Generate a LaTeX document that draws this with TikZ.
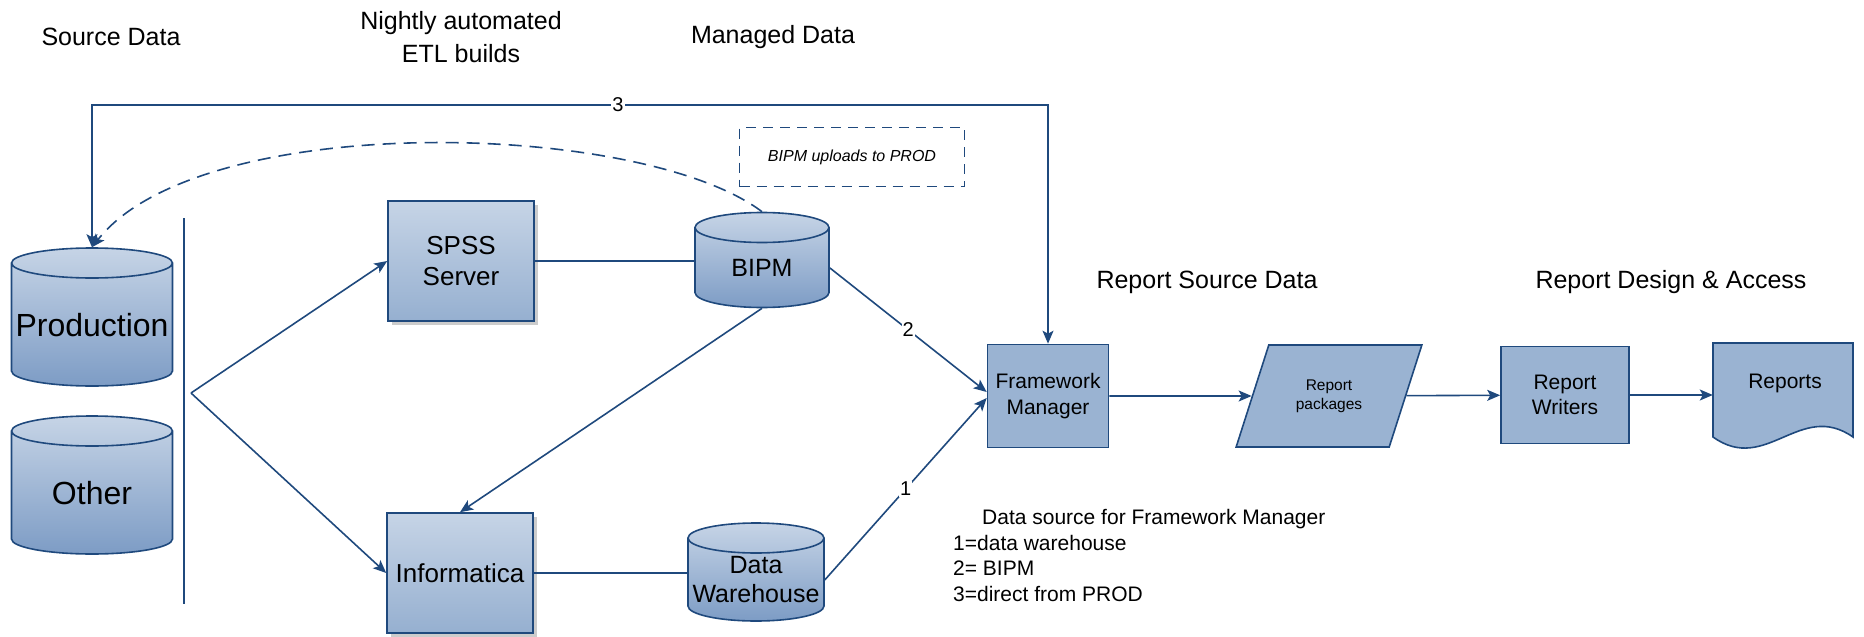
\documentclass[tikz,border=0pt]{standalone}
\usepackage{fontspec}
\setmainfont{Liberation Sans}
\usetikzlibrary{shapes.geometric,shadows,arrows.meta}
\definecolor{lineblue}{HTML}{1F497D}
\definecolor{lightfill}{HTML}{C6D4E6}
\definecolor{darkfill}{HTML}{7D9CC5}
\definecolor{flatfill}{HTML}{9AB3D2}
\newcommand{\slim}[1]{\makebox[60pt]{#1}}
\begin{document}
\begin{tikzpicture} [
        x=1pt, y=-1pt,
        >={Stealth[length=13pt,width=11pt,inset=3pt]},
        store/.style={cylinder, shape border rotate=90, aspect=0.5, draw=lineblue, line width=1.6pt,
            top color=lightfill, bottom color=darkfill, inner sep=0pt,
            anchor=shape center, align=center},
        server/.style={rectangle, draw=lineblue, line width=1.6pt, top color=lightfill, bottom color=flatfill!85!darkfill,
            drop shadow={shadow xshift=4pt, shadow yshift=-4pt, fill=black!40},
            minimum width=146pt, minimum height=120pt, align=center, font=\fontsize{26}{31}\selectfont},
        box/.style={rectangle, draw=lineblue, line width=1.6pt, fill=flatfill, align=center},
        flow/.style={draw=lineblue, line width=1.6pt, ->},
        link/.style={draw=lineblue, line width=1.6pt},
        head/.style={align=center, font=\fontsize{25}{33}\selectfont},
        num/.style={fill=white, inner sep=1pt, font=\fontsize{20}{22}\selectfont},
    ]
    \useasboundingbox (0,0) rectangle (1864,637);
    % column headings
    \node[head] (hsrc) at (111,37) {Source Data};
    \node[head] (hetl) at (461,37) {Nightly automated\\ETL builds};
    \node[head] (hman) at (773,37) {Managed Data};
    \node[head] (hrsd) at (1207,282) {Report Source Data};
    \node[head] (hrda) at (1671,282) {Report Design \& Access};
    % data stores
    \foreach \pos/\name/\txt in {
            {(92,317)/prod/Production}, {(92,485)/other/Other}}
        \node[store, minimum width=161pt, minimum height=138pt,
            font=\fontsize{32}{36}\selectfont] (\name) at \pos {\slim{\txt}};
    \node[store, minimum width=134pt, minimum height=95pt,
        font=\fontsize{25}{29}\selectfont] (bipm) at (762,260) {\slim{BIPM}};
    \node[store, minimum width=136pt, minimum height=98pt,
        font=\fontsize{25}{29}\selectfont] (dw) at (756,572) {\slim{Data}\\\slim{Warehouse}};
    % ETL servers
    \node[server] (spss) at (461,261) {SPSS\\Server};
    \node[server] (info) at (460,573) {Informatica};
    % reporting chain
    \node[box, minimum width=121pt, minimum height=103pt, font=\fontsize{21}{26}\selectfont] (fm) at (1048,396) {Framework\\Manager};
    \node[box, trapezium, trapezium left angle=63.4, trapezium right angle=116.6, trapezium stretches=true,
        minimum width=186pt, minimum height=102pt, font=\fontsize{15.5}{19}\selectfont] (pkg) at (1329,396) {Report\\packages};
    \node[box, minimum width=128pt, minimum height=97pt, font=\fontsize{21}{25}\selectfont] (rw) at (1565,395) {Report\\Writers};
    \path[box] (1713,343) -- (1853,343) -- (1853,437)
        .. controls (1800,400) and (1766,475) .. (1713,437) -- cycle;
    \node[minimum width=140pt, minimum height=94pt, inner sep=0pt] (reports) at (1783,390) {};
    \node[font=\fontsize{21}{25}\selectfont] (rtxt) at (1785,383) {Reports};
    % note
    \node[draw=lineblue, line width=1.8pt, dash pattern=on 10pt off 7pt, minimum width=225pt, minimum height=59pt,
        font=\fontsize{16}{19}\selectfont\itshape] (upl) at (852,157) {BIPM uploads to PROD};
    % legend
    \node[anchor=north west, inner sep=0pt, align=left, font=\fontsize{21}{25.7}\selectfont] (legend) at (953,509)
        {\hspace*{29pt}Data source for Framework Manager\\1=data warehouse\\2= BIPM\\3=direct from PROD};
    % fork from the sources
    \coordinate (bartop) at (184,218);
    \coordinate (barbot) at (184,604);
    \coordinate (fork) at (191,393);
    \path[link] (bartop) -- (barbot);
    \path[flow] (fork) -- (spss.west);
    \path[flow] (fork) -- (info.west);
    % managed data links
    \path[link] (spss.east) -- (spss.east -| bipm.west);
    \path[link] (info.east) -- (info.east -| dw.west);
    \path[flow] (bipm.south) -- (info.north);
    \path[flow] (bipm.east) -- node[num] {2} ([yshift=4pt]fm.west);
    \path[flow] (dw.east) -- node[num] {1} ([yshift=-2pt]fm.west);
    % direct link to production
    \coordinate (ret) at (618,105);
    \path[flow, <->] (prod.north) |- (ret) node[num] {3} -| (fm.north);
    \path[flow, dash pattern=on 13pt off 8pt] (bipm.north) .. controls (640,120) and (200,110) .. (prod.north);
    % report chain
    \path[flow] (fm) -- (pkg);
    \path[flow] (pkg) -- (rw);
    \path[flow] (rw.east) -- (rw.east -| reports.west);
\end{tikzpicture}
\end{document}
